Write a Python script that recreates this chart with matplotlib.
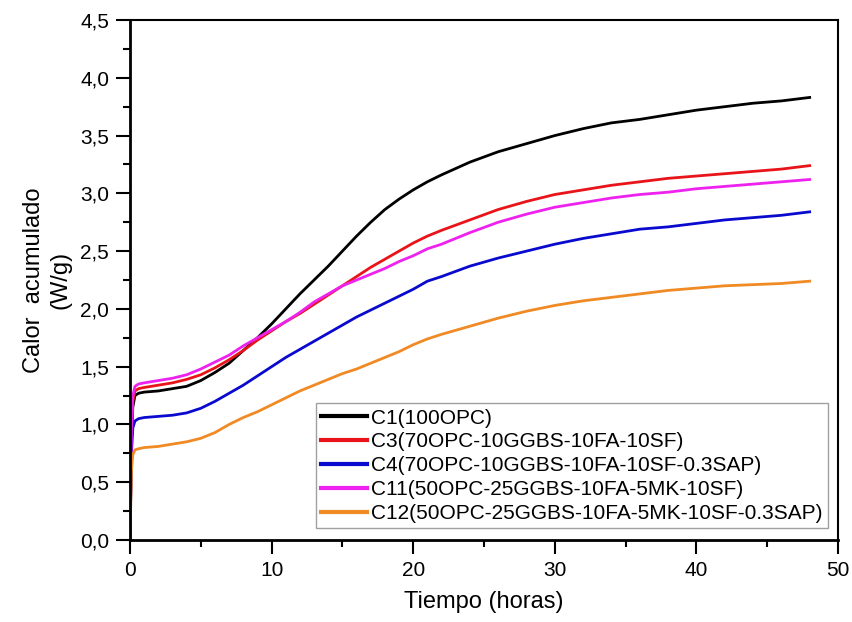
import matplotlib
matplotlib.use("Agg")
import matplotlib.pyplot as plt
from matplotlib.ticker import MultipleLocator, FuncFormatter

plt.rcParams['font.family'] = ['Liberation Sans', 'DejaVu Sans']

# Time (hours)
t = [0, 0.05, 0.1, 0.2, 0.35, 0.6, 1, 2, 3, 4, 5, 6, 7, 8, 9, 10, 11, 12, 13, 14,
     15, 16, 17, 18, 19, 20, 21, 22, 24, 26, 28, 30, 32, 34, 36, 38, 40, 42, 44, 46, 48]

# Cumulative heat (W/g)
c1 = [0, 0.40, 0.85, 1.15, 1.25, 1.27, 1.28, 1.29, 1.31, 1.33, 1.38, 1.45, 1.53, 1.64,
      1.75, 1.87, 2.00, 2.13, 2.25, 2.37, 2.50, 2.63, 2.75, 2.86, 2.95, 3.03, 3.10, 3.16,
      3.27, 3.36, 3.43, 3.50, 3.56, 3.61, 3.64, 3.68, 3.72, 3.75, 3.78, 3.80, 3.83]
c3 = [0, 0.40, 0.90, 1.20, 1.29, 1.31, 1.32, 1.34, 1.36, 1.39, 1.43, 1.49, 1.56, 1.64,
      1.73, 1.81, 1.89, 1.96, 2.04, 2.12, 2.20, 2.28, 2.36, 2.43, 2.50, 2.57, 2.63, 2.68,
      2.77, 2.86, 2.93, 2.99, 3.03, 3.07, 3.10, 3.13, 3.15, 3.17, 3.19, 3.21, 3.24]
c4 = [0, 0.35, 0.75, 0.97, 1.03, 1.05, 1.06, 1.07, 1.08, 1.10, 1.14, 1.20, 1.27, 1.34,
      1.42, 1.50, 1.58, 1.65, 1.72, 1.79, 1.86, 1.93, 1.99, 2.05, 2.11, 2.17, 2.24, 2.28,
      2.37, 2.44, 2.50, 2.56, 2.61, 2.65, 2.69, 2.71, 2.74, 2.77, 2.79, 2.81, 2.84]
c11 = [0, 0.45, 0.95, 1.25, 1.33, 1.35, 1.36, 1.38, 1.40, 1.43, 1.48, 1.54, 1.60, 1.68,
       1.75, 1.82, 1.89, 1.97, 2.06, 2.13, 2.20, 2.25, 2.30, 2.35, 2.41, 2.46, 2.52, 2.56,
       2.66, 2.75, 2.82, 2.88, 2.92, 2.96, 2.99, 3.01, 3.04, 3.06, 3.08, 3.10, 3.12]
c12 = [0, 0.30, 0.60, 0.74, 0.78, 0.79, 0.80, 0.81, 0.83, 0.85, 0.88, 0.93, 1.00, 1.06,
       1.11, 1.17, 1.23, 1.29, 1.34, 1.39, 1.44, 1.48, 1.53, 1.58, 1.63, 1.69, 1.74, 1.78,
       1.85, 1.92, 1.98, 2.03, 2.07, 2.10, 2.13, 2.16, 2.18, 2.20, 2.21, 2.22, 2.24]

labels = ["C1(100OPC)",
          "C3(70OPC-10GGBS-10FA-10SF)",
          "C4(70OPC-10GGBS-10FA-10SF-0.3SAP)",
          "C11(50OPC-25GGBS-10FA-5MK-10SF)",
          "C12(50OPC-25GGBS-10FA-5MK-10SF-0.3SAP)"]
colors = ["#000000", "#e8141a", "#0a0acf", "#ee22ee", "#f08a24"]

fig = plt.figure(figsize=(8.53, 6.22), dpi=100)
ax = fig.add_axes([0.1524, 0.1318, 0.8300, 0.8360])

for y, lab, col in zip([c1, c3, c4, c11, c12], labels, colors):
    ax.plot(t, y, color=col, lw=2.0, label=lab)

ax.set_xlim(0, 50)
ax.set_ylim(0, 4.5)
ax.xaxis.set_major_locator(MultipleLocator(10))
ax.xaxis.set_minor_locator(MultipleLocator(5))
ax.yaxis.set_major_locator(MultipleLocator(0.5))
ax.yaxis.set_minor_locator(MultipleLocator(0.25))
ax.yaxis.set_major_formatter(FuncFormatter(lambda v, p: f"{v:.1f}".replace('.', ',')))

ax.tick_params(which='major', direction='out', length=10, width=1.5,
               labelsize=15, pad=5, colors='black')
ax.tick_params(which='minor', direction='out', length=5, width=1.5)
ax.tick_params(top=False, right=False, which='both')
for s in ax.spines.values():
    s.set_linewidth(1.5)
ax.spines['left'].set_linewidth(2)
ax.spines['bottom'].set_linewidth(2)

ax.set_xlabel("Tiempo (horas)", fontsize=17, labelpad=8)
ax.set_ylabel("Calor  acumulado\n(W/g)", fontsize=17, labelpad=6, linespacing=1.3)

leg = ax.legend(loc='lower right', bbox_to_anchor=(0.986, 0.023), borderaxespad=0,
                fontsize=15, frameon=True, fancybox=False, handlelength=2.2,
                handletextpad=0.2, labelspacing=0.23, borderpad=0.25)
leg.get_frame().set_edgecolor('#888888')
leg.get_frame().set_linewidth(1.0)
for line in leg.get_lines():
    line.set_linewidth(3)

fig.savefig("out.png", dpi=100)
